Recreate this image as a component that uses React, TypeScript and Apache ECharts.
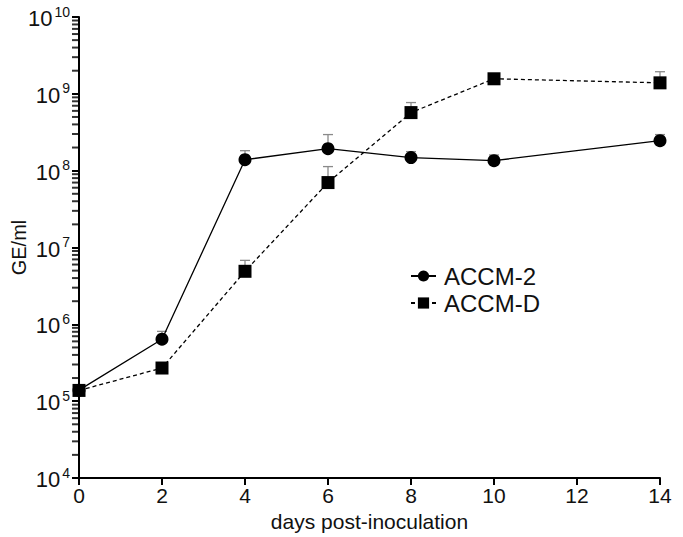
import React, { useEffect, useRef } from "react";
import * as echarts from "echarts";

const days = [0, 2, 4, 6, 8, 10, 14];
const accm2 = [1.39e5, 6.4e5, 1.39e8, 1.93e8, 1.48e8, 1.35e8, 2.46e8];
const accm2ErrTop = [null, 8.1e5, 1.82e8, 2.95e8, 1.77e8, 1.6e8, 2.95e8];
const accmD = [1.38e5, 2.7e5, 4.9e6, 7.0e7, 5.7e8, 1.57e9, 1.39e9];
const accmDErrTop = [null, null, 6.8e6, 1.13e8, 7.7e8, null, 1.94e9];
const minorMultipliers = [2, 3, 4, 5, 6, 7, 8, 9];
const minorDecades = [4, 5, 6, 7, 8, 9];

const FONT = "Liberation Sans, Arial, sans-serif";

export default function App() {
  const ref = useRef<HTMLDivElement>(null);
  useEffect(() => {
    if (!ref.current) return;
    const chart = echarts.init(ref.current, null, { renderer: "svg" });

    const minorVals: number[][] = [];
    minorDecades.forEach((d) =>
      minorMultipliers.forEach((m) => minorVals.push([0, m * Math.pow(10, d)]))
    );

    const errData = (vals: number[], tops: (number | null)[]) =>
      days
        .map((d, i) => (tops[i] != null ? [d, vals[i], tops[i]] : null))
        .filter((v) => v !== null);

    const errRender = (params: any, api: any) => {
      const p0 = api.coord([api.value(0), api.value(1)]);
      const p1 = api.coord([api.value(0), api.value(2)]);
      const style = { stroke: "#8a8a8a", lineWidth: 1.3 };
      return {
        type: "group",
        children: [
          { type: "line", shape: { x1: p0[0], y1: p0[1], x2: p1[0], y2: p1[1] }, style },
          { type: "line", shape: { x1: p1[0] - 5, y1: p1[1], x2: p1[0] + 5, y2: p1[1] }, style },
        ],
      };
    };

    chart.setOption({
      animation: false,
      textStyle: { fontFamily: FONT },
      grid: { left: 79, right: 23, top: 17, bottom: 59, containLabel: false, outerBoundsMode: "none" },
      legend: {
        orient: "vertical",
        left: 405,
        top: 259,
        itemGap: 3,
        itemWidth: 25,
        itemHeight: 14,
        textStyle: { fontSize: 24, color: "#111", fontFamily: FONT, padding: [0, 0, 0, 3] },
        data: ["ACCM-2", "ACCM-D"],
      },
      xAxis: {
        type: "value",
        min: 0,
        max: 14,
        interval: 2,
        name: "days post-inoculation",
        nameLocation: "middle",
        nameGap: 33,
        nameTextStyle: { fontSize: 21, color: "#111", fontFamily: FONT },
        axisLine: { onZero: false, lineStyle: { color: "#000", width: 2 } },
        axisTick: { show: true, length: 7, lineStyle: { color: "#000", width: 2 } },
        axisLabel: { fontSize: 21, color: "#111", margin: 7, fontFamily: FONT },
        splitLine: { show: false },
      },
      yAxis: {
        type: "log",
        logBase: 10,
        min: 1e4,
        max: 1e10,
        name: "GE/ml",
        nameLocation: "middle",
        nameGap: 50,
        nameMoveOverlap: false,
        nameTextStyle: { fontSize: 20, color: "#111", fontFamily: FONT },
        axisLine: { lineStyle: { color: "#000", width: 2 } },
        axisTick: { show: true, length: 7, lineStyle: { color: "#000", width: 2 } },
        axisLabel: {
          margin: 9,
          formatter: (v: number) => `{b|10}{s|${Math.round(Math.log10(v))}}`,
          rich: {
            b: { fontSize: 22, color: "#111", fontFamily: FONT, verticalAlign: "bottom" },
            s: { fontSize: 14, color: "#111", fontFamily: FONT, verticalAlign: "top", padding: [0, 0, 11, 2] },
          },
        },
        splitLine: { show: false },
      },
      series: [
        {
          name: "minorTicks",
          type: "scatter",
          silent: true,
          clip: false,
          data: minorVals,
          symbol: "rect",
          symbolSize: [6, 2],
          symbolOffset: [-4, 0],
          itemStyle: { color: "#000" },
          z: 6,
        },
        {
          name: "errA",
          type: "custom",
          silent: true,
          data: errData(accm2, accm2ErrTop),
          renderItem: errRender,
          z: 1,
        },
        {
          name: "errD",
          type: "custom",
          silent: true,
          data: errData(accmD, accmDErrTop),
          renderItem: errRender,
          z: 1,
        },
        {
          name: "ACCM-2",
          type: "line",
          data: days.map((d, i) => [d, accm2[i]]),
          symbol: "circle",
          symbolSize: 13,
          itemStyle: { color: "#000" },
          lineStyle: { color: "#000", width: 1.3, type: "solid" },
          z: 3,
        },
        {
          name: "ACCM-D",
          type: "line",
          data: days.map((d, i) => [d, accmD[i]]),
          symbol: "rect",
          symbolSize: 13,
          itemStyle: { color: "#000" },
          lineStyle: { color: "#000", width: 1.3, type: [4, 3] },
          z: 4,
        },
      ],
    });
    return () => chart.dispose();
  }, []);
  return <div ref={ref} style={{ width: 683, height: 537, position: "absolute", left: 0, top: 0, background: "#fff" }} />;
}
